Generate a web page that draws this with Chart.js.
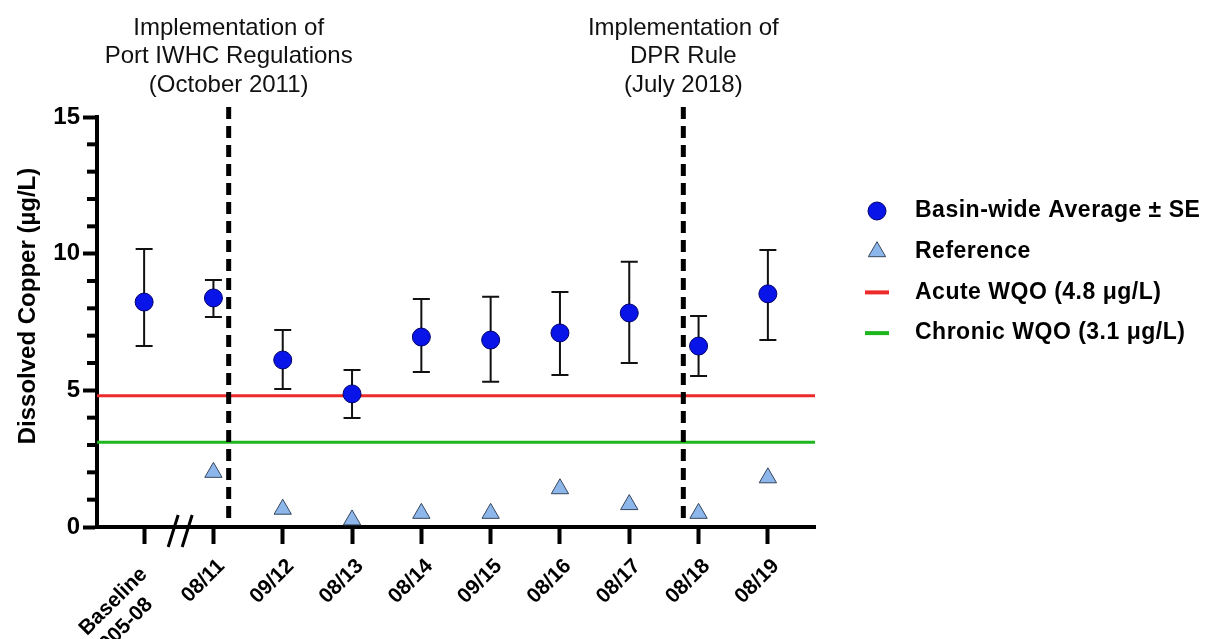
<!DOCTYPE html>
<html>
<head>
<meta charset="utf-8">
<title>Dissolved Copper</title>
<script src="https://cdn.jsdelivr.net/npm/chart.js@4.4.0/dist/chart.umd.min.js"></script>
<style>
  html, body { margin: 0; padding: 0; background: #fff; }
</style>
</head>
<body>
<canvas id="MyChart" width="1213" height="639"></canvas>
<script>
// survey periods (x categories)
const labels = [['Baseline  ', '2005-08     '], '08/11', '09/12', '08/13', '08/14', '09/15', '08/16', '08/17', '08/18', '08/19']
// basin-wide average and the +/- SE ends
const basinAvg = [8.23, 8.38, 6.11, 4.87, 6.95, 6.84, 7.10, 7.83, 6.62, 8.53]
const seHigh = [10.17, 9.04, 7.21, 5.74, 8.34, 8.42, 8.60, 9.70, 7.72, 10.13]
const seLow = [6.62, 7.68, 5.05, 3.99, 5.67, 5.31, 5.56, 6.00, 5.52, 6.84]
// reference site (no baseline value)
const reference = [null, 2.0, 0.65, 0.26, 0.5, 0.5, 1.4, 0.82, 0.5, 1.8]
const acuteWQO = 4.8
const chronicWQO = 3.1
const yTicks = [0, 5, 10, 15]
const xRange = [-0.68, 9.68]
// regulation dates, in category units, and their captions
const eventPos = [1.22, 7.78]
const eventText = [
    ['Implementation of', 'Port IWHC Regulations', '(October 2011)'],
    ['Implementation of', 'DPR Rule', '(July 2018)']
]
const yTitle = 'Dissolved Copper (\u00b5g/L)'

const FONT = "'Liberation Sans', Arial, sans-serif"
Chart.defaults.font.family = FONT
Chart.defaults.color = '#000'

function toPoints(arr){
    return arr.map((v, i) => ({x: i, y: v})).filter(p => p.y !== null)
}

const extras = {
    id: 'extras',
    beforeDatasetsDraw(chart){
        const ctx = chart.ctx
        const xs = chart.scales.x, ys = chart.scales.y
        ctx.save()
        ctx.strokeStyle = '#111'
        ctx.lineWidth = 2
        basinAvg.forEach((v, i) => {
            const px = xs.getPixelForValue(i)
            const top = ys.getPixelForValue(seHigh[i])
            const bot = ys.getPixelForValue(seLow[i])
            ctx.beginPath()
            ctx.moveTo(px, top); ctx.lineTo(px, bot)
            ctx.moveTo(px - 8.5, top); ctx.lineTo(px + 8.5, top)
            ctx.moveTo(px - 8.5, bot); ctx.lineTo(px + 8.5, bot)
            ctx.stroke()
        })
        ctx.restore()
    },
    afterDatasetsDraw(chart){
        const ctx = chart.ctx
        const xs = chart.scales.x, ys = chart.scales.y
        const area = chart.chartArea
        ctx.save()
        // minor ticks on the y axis
        ctx.strokeStyle = '#000'
        ctx.lineWidth = 4
        for (let v = 1; v < 15; v++){
            if (v % 5 === 0) continue
            const py = ys.getPixelForValue(v)
            ctx.beginPath()
            ctx.moveTo(area.left, py); ctx.lineTo(area.left - 10, py)
            ctx.stroke()
        }
        // axis break between baseline and 08/11
        const bx = xs.getPixelForValue(0.52)
        ctx.lineWidth = 3
        ctx.beginPath()
        ctx.moveTo(bx - 12, area.bottom + 20); ctx.lineTo(bx - 2, area.bottom - 12)
        ctx.moveTo(bx + 2, area.bottom + 20); ctx.lineTo(bx + 12, area.bottom - 12)
        ctx.stroke()
        // regulation lines and captions
        eventPos.forEach((pos, k) => {
            const px = xs.getPixelForValue(pos)
            ctx.lineWidth = 5
            ctx.setLineDash([12, 7])
            ctx.beginPath()
            ctx.moveTo(px, 107); ctx.lineTo(px, area.bottom)
            ctx.stroke()
            ctx.setLineDash([])
            ctx.fillStyle = '#111'
            ctx.font = '24px ' + FONT
            ctx.textAlign = 'center'
            ctx.textBaseline = 'middle'
            eventText[k].forEach((line, j) => ctx.fillText(line, px, 28 + j * 28.5))
        })
        // y axis title
        ctx.translate(28, 306)
        ctx.rotate(-Math.PI / 2)
        ctx.fillStyle = '#000'
        ctx.font = 'bold 24px ' + FONT
        ctx.textAlign = 'center'
        ctx.textBaseline = 'middle'
        ctx.fillText(yTitle, 0, 0)
        ctx.restore()
    },
    afterDraw(chart){
        const ctx = chart.ctx
        ctx.save()
        chart.data.datasets.forEach((ds, i) => {
            const y = 211 + i * 40.7
            const x = 877
            if (ds.showLine){
                ctx.strokeStyle = ds.borderColor
                ctx.lineWidth = 4
                ctx.beginPath()
                ctx.moveTo(x - 12, y); ctx.lineTo(x + 12, y)
                ctx.stroke()
            } else {
                ctx.fillStyle = ds.backgroundColor
                ctx.strokeStyle = ds.borderColor
                ctx.lineWidth = ds.borderWidth
                Chart.helpers.drawPoint(ctx, {pointStyle: ds.pointStyle, radius: ds.pointRadius, rotation: 0, borderWidth: ds.borderWidth}, x, y)
            }
            ctx.fillStyle = '#000'
            ctx.font = 'bold 23px ' + FONT
            ctx.letterSpacing = '0.5px'
            ctx.textAlign = 'left'
            ctx.textBaseline = 'middle'
            ctx.fillText(ds.label, 915, y)
        })
        ctx.restore()
    }
}

const ctx = document.getElementById('MyChart').getContext('2d')
new Chart(ctx, {
    type: 'scatter',
    data: {
        datasets: [
            {
                label: 'Basin-wide Average \u00b1 SE',
                data: toPoints(basinAvg),
                pointStyle: 'circle',
                pointRadius: 9,
                pointHoverRadius: 9,
                backgroundColor: '#0814e8',
                borderColor: '#00006a',
                borderWidth: 1,
                clip: false,
                order: 1,
            },
            {
                label: 'Reference',
                data: toPoints(reference),
                pointStyle: 'triangle',
                pointRadius: 10,
                pointHoverRadius: 10,
                backgroundColor: '#8db6ea',
                borderColor: '#34465e',
                borderWidth: 1,
                clip: false,
                order: 1,
            },
            {
                label: 'Acute WQO (4.8 \u03bcg/L)',
                data: [{x: xRange[0], y: acuteWQO}, {x: xRange[1], y: acuteWQO}],
                showLine: true,
                borderColor: '#ec2a2a',
                borderWidth: 3,
                pointRadius: 0,
                order: 3,
            },
            {
                label: 'Chronic WQO (3.1 \u03bcg/L)',
                data: [{x: xRange[0], y: chronicWQO}, {x: xRange[1], y: chronicWQO}],
                showLine: true,
                borderColor: '#1db61d',
                borderWidth: 3,
                pointRadius: 0,
                order: 3,
            }
        ]
    },
    options: {
        responsive: false,
        animation: false,
        layout: {padding: {top: 117, right: 398, left: 0, bottom: 0}},
        plugins: {legend: {display: false}, tooltip: {enabled: false}},
        scales: {
            x: {
                type: 'linear',
                min: xRange[0],
                max: xRange[1],
                afterBuildTicks: s => { s.ticks = labels.map((l, i) => ({value: i})) },
                afterFit: s => { s.height = 112 },
                border: {color: '#000', width: 4},
                grid: {drawOnChartArea: false, color: '#000', tickLength: 17, tickWidth: 4},
                ticks: {
                    color: '#000',
                    font: {size: 21, weight: 'bold'},
                    minRotation: 45,
                    maxRotation: 45,
                    autoSkip: false,
                    padding: 10,
                    labelOffset: 8,
                    callback: (v) => labels[v]
                }
            },
            y: {
                min: 0,
                max: 15,
                afterBuildTicks: s => { s.ticks = yTicks.map(v => ({value: v})) },
                afterFit: s => { s.width = 97 },
                border: {color: '#000', width: 4},
                grid: {drawOnChartArea: false, color: '#000', tickLength: 14, tickWidth: 4},
                ticks: {color: '#000', font: {size: 24, weight: 'bold'}, padding: 3}
            }
        }
    },
    plugins: [extras]
})
</script>
</body>
</html>
